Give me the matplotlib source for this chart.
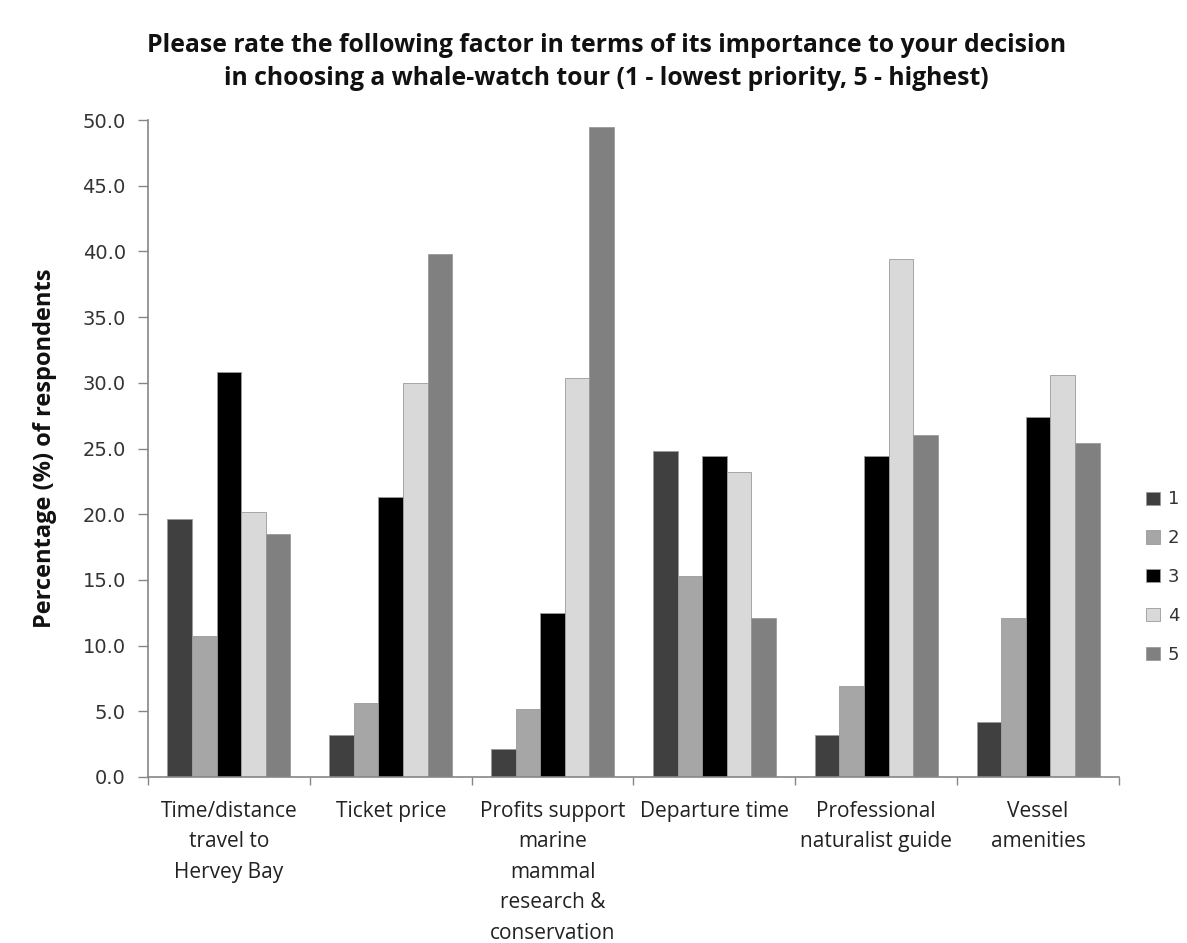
import numpy as np
import matplotlib
matplotlib.use("Agg")
import matplotlib.pyplot as plt
from matplotlib.ticker import FixedLocator, NullFormatter

factors = [
    "Time/distance\ntravel to\nHervey Bay",
    "Ticket price",
    "Profits support\nmarine\nmammal\nresearch &\nconservation",
    "Departure time",
    "Professional\nnaturalist guide",
    "Vessel\namenities",
]
ratings = ["1", "2", "3", "4", "5"]

rating_1 = [19.6, 3.2, 2.1, 24.8, 3.2, 4.2]
rating_2 = [10.7, 5.6, 5.2, 15.3, 6.9, 12.1]
rating_3 = [30.8, 21.3, 12.5, 24.4, 24.4, 27.4]
rating_4 = [20.2, 30.0, 30.4, 23.2, 39.4, 30.6]
rating_5 = [18.5, 39.8, 49.5, 12.1, 26.0, 25.4]
series = [rating_1, rating_2, rating_3, rating_4, rating_5]

colors = ["#404040", "#a6a6a6", "#000000", "#d9d9d9", "#808080"]

fig = plt.figure(figsize=(11.87, 9.43), dpi=100)
ax = fig.add_axes([148 / 1187, 1 - 777 / 943, (1119 - 148) / 1187, (777 - 120) / 943])

x = np.arange(len(factors))
width = 0.152
for i, (vals, col) in enumerate(zip(series, colors)):
    ax.bar(x + (i - 2) * width, vals, width, color=col, edgecolor="#9a9a9a",
           linewidth=0.6, label=ratings[i])

ax.set_xlim(-0.5, len(factors) - 0.5)
ax.set_ylim(0, 50)
ax.set_yticks(np.arange(0, 50.1, 5))
ax.set_yticklabels([f"{v:.1f}" for v in np.arange(0, 50.1, 5)],
                   fontsize=14, color="#333333", family="DejaVu Sans")
ax.set_xticks(x)
ax.set_xticklabels(factors, fontsize=15, color="#222222", family="Open Sans",
                   linespacing=1.6, va="top")
ax.tick_params(axis="x", which="major", length=0, pad=17)
ax.xaxis.set_minor_locator(FixedLocator(np.arange(-0.5, len(factors), 1)))
ax.xaxis.set_minor_formatter(NullFormatter())
ax.tick_params(axis="x", which="minor", length=6, color="#868686", width=1)
ax.tick_params(axis="y", length=7, color="#868686", width=1, pad=9)

for side in ["top", "right"]:
    ax.spines[side].set_visible(False)
for side in ["left", "bottom"]:
    ax.spines[side].set_color("#868686")
    ax.spines[side].set_linewidth(1.2)

ax.set_ylabel("Percentage (%) of respondents", fontsize=17, fontweight="bold",
              family="Open Sans", color="#111111", labelpad=18)

fig.text(0.511, 1 - 62 / 943,
         "Please rate the following factor in terms of its importance to your decision\n"
         "in choosing a whale-watch tour (1 - lowest priority, 5 - highest)",
         ha="center", va="center", fontsize=17.8, fontweight="bold",
         family="Open Sans", color="#111111", linespacing=1.4)

leg = fig.legend(loc="center left", bbox_to_anchor=(1146 / 1187, 1 - 577 / 943),
                 frameon=False, fontsize=13, handlelength=0.75, handleheight=0.75,
                 labelspacing=1.15, handletextpad=0.45, borderpad=0,
                 borderaxespad=0)
for t in leg.get_texts():
    t.set_color("#333333")
    t.set_family("DejaVu Sans")

fig.savefig("out.png", dpi=100)
